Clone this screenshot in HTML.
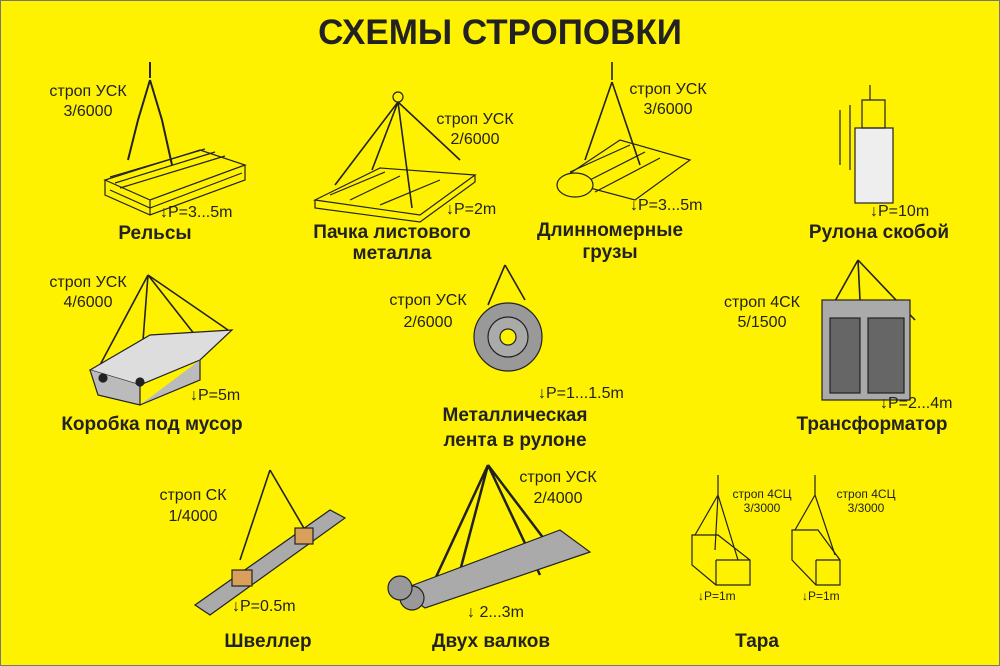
<!DOCTYPE html>
<html><head><meta charset="utf-8"><style>
html,body{margin:0;padding:0;background:#fff200}
svg{display:block}
text{font-family:"Liberation Sans",sans-serif;fill:#222}
.l{font-size:16px}
.b{font-size:19px;font-weight:bold}
.s{font-size:12px}
</style></head><body>
<svg width="1000" height="666" viewBox="0 0 1000 666">
<rect x="0.5" y="0.5" width="999" height="665" fill="#fff200" stroke="#777"/>
<text x="500" y="44" text-anchor="middle" style="font-size:35px;font-weight:bold">СХЕМЫ СТРОПОВКИ</text>
<g fill="none" stroke="#222" stroke-width="1.2">
<!-- rails -->
<path d="M150 62 L150 78 M150 80 L138 120 L128 160 M150 80 L162 120 L172 165" stroke-width="2"/>
<path d="M105 180 L200 150 L245 165 L150 200 Z M105 180 L105 195 L150 215 L245 180 L245 165 M150 200 L150 215"/>
<path d="M110 177 L205 149 M115 183 L215 152 M120 188 L225 156 M110 190 L150 208 L242 173"/>
<!-- sheet metal -->
<circle cx="398" cy="97" r="5"/>
<path d="M398 102 L335 185 M398 102 L412 208 M398 102 L460 160 M398 102 L372 170" stroke-width="1.6"/>
<path d="M315 200 L380 168 L475 175 L420 215 Z M315 200 L315 208 L420 222 L475 182 L475 175"/>
<path d="M330 195 L385 172 M350 200 L400 176 M380 205 L440 180"/>
<!-- long loads -->
<path d="M612 62 L612 80 M612 82 L585 160 M612 82 L640 165" stroke-width="1.6"/>
<path d="M560 180 L620 140 L690 160 L635 200 Z"/>
<path d="M570 172 L630 145 M580 185 L645 152 M595 192 L660 158"/>
<ellipse cx="575" cy="185" rx="18" ry="12" fill="#fff200"/>
<!-- roll with clamp -->
<rect x="855" y="128" width="38" height="75" fill="#eee"/>
<path d="M862 100 L885 100 L885 128 L862 128 Z M840 110 L840 165 M850 105 L850 170 M870 85 L870 100"/>
<!-- box trash -->
<path d="M148 275 L100 365 M148 275 L140 380 M148 275 L195 335 M148 275 L228 330" stroke-width="1.6"/>
<path d="M90 370 L150 335 L232 330 L200 360 L140 385 Z" fill="#ddd"/>
<path d="M90 370 L98 395 L140 405 L140 385 M140 405 L200 380 L200 360" fill="#bbb"/>
<circle cx="103" cy="378" r="4" fill="#222"/><circle cx="140" cy="382" r="4" fill="#222"/>
<!-- coil -->
<path d="M505 265 L488 305 M505 265 L525 300" stroke-width="1.6"/>
<circle cx="508" cy="337" r="34" fill="#999"/>
<circle cx="508" cy="337" r="20" fill="#aaa"/>
<circle cx="508" cy="337" r="8" fill="#fff200"/>
<!-- transformer -->
<path d="M858 260 L830 310 M858 260 L860 300 M858 260 L915 320" stroke-width="1.6"/>
<rect x="822" y="300" width="88" height="100" fill="#aaa"/>
<rect x="830" y="318" width="30" height="75" fill="#666"/>
<rect x="868" y="318" width="36" height="75" fill="#666"/>
<!-- channel -->
<path d="M270 470 L240 560 M270 470 L305 530" stroke-width="1.6"/>
<path d="M195 605 L330 510 L345 518 L210 615 Z" fill="#aaa"/>
<rect x="232" y="570" width="20" height="16" fill="#d9a05c"/>
<rect x="295" y="528" width="18" height="16" fill="#d9a05c"/>
<!-- two rollers -->
<path d="M488 465 L430 590 M488 465 L560 560 M488 465 L455 590 M488 465 L540 575" stroke-width="2.5"/>
<path d="M400 590 L560 530 L590 552 L425 608 Z" fill="#aaa"/>
<ellipse cx="412" cy="598" rx="12" ry="12" fill="#999"/>
<ellipse cx="400" cy="588" rx="12" ry="12" fill="#999"/>
<!-- tara -->
<path d="M718 475 L718 495 M718 495 L695 535 M718 495 L715 550 M718 495 L738 560"/>
<path d="M692 535 L718 535 L750 560 L750 585 L716 585 L692 565 Z M716 560 L750 560 M716 560 L716 585"/>
<path d="M815 475 L815 495 M815 495 L795 530 M815 495 L835 555"/>
<path d="M792 530 L818 530 L840 560 L840 585 L816 585 L792 560 Z M816 560 L840 560 M816 560 L816 585"/>
</g>
<g class="l" text-anchor="middle">
<text x="88" y="96">строп УСК</text><text x="88" y="116">3/6000</text>
<text x="475" y="124">строп УСК</text><text x="475" y="144">2/6000</text>
<text x="668" y="94">строп УСК</text><text x="668" y="114">3/6000</text>
<text x="88" y="287">строп УСК</text><text x="88" y="307">4/6000</text>
<text x="428" y="305">строп УСК</text><text x="428" y="327">2/6000</text>
<text x="762" y="307">строп 4СК</text><text x="762" y="327">5/1500</text>
<text x="193" y="500">строп СК</text><text x="193" y="521">1/4000</text>
<text x="558" y="482">строп УСК</text><text x="558" y="503">2/4000</text>
</g>
<g class="l">
<text x="160" y="217">↓P=3...5m</text>
<text x="446" y="214">↓P=2m</text>
<text x="630" y="210">↓P=3...5m</text>
<text x="870" y="216">↓P=10m</text>
<text x="190" y="400">↓P=5m</text>
<text x="538" y="398">↓P=1...1.5m</text>
<text x="880" y="408">↓P=2...4m</text>
<text x="232" y="611">↓P=0.5m</text>
<text x="467" y="617">↓ 2...3m</text>
</g>
<g class="s">
<text x="762" y="498" text-anchor="middle">строп 4СЦ</text><text x="762" y="512" text-anchor="middle">3/3000</text>
<text x="866" y="498" text-anchor="middle">строп 4СЦ</text><text x="866" y="512" text-anchor="middle">3/3000</text>
<text x="698" y="600">↓P=1m</text><text x="802" y="600">↓P=1m</text>
</g>
<g class="b" text-anchor="middle">
<text x="155" y="239">Рельсы</text>
<text x="392" y="238">Пачка листового</text><text x="392" y="259">металла</text>
<text x="610" y="236">Длинномерные</text><text x="610" y="258">грузы</text>
<text x="879" y="238">Рулона скобой</text>
<text x="152" y="430">Коробка под мусор</text>
<text x="515" y="421">Металлическая</text><text x="515" y="446">лента в рулоне</text>
<text x="872" y="430">Трансформатор</text>
<text x="268" y="647">Швеллер</text>
<text x="491" y="647">Двух валков</text>
<text x="757" y="647">Тара</text>
</g>
</svg>
</body></html>
